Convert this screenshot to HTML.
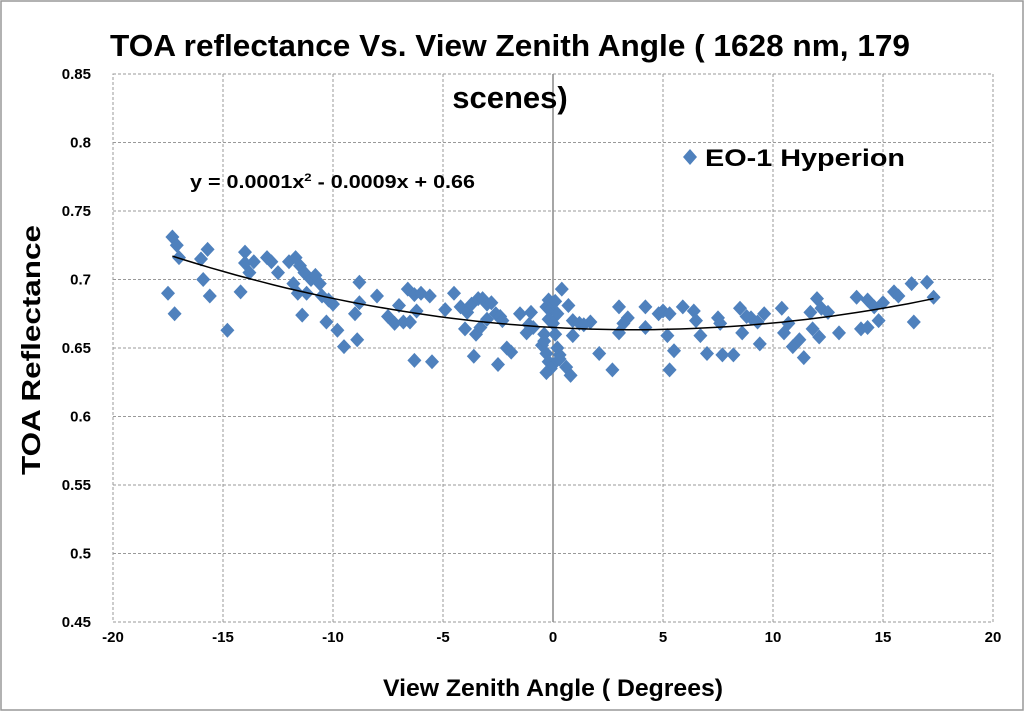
<!DOCTYPE html>
<html><head><meta charset="utf-8"><style>
body{margin:0;background:#fff;width:1024px;height:711px;overflow:hidden;font-family:"Liberation Sans",sans-serif}
svg{display:block}
</style></head><body>
<svg id="chart" width="1024" height="711">
<rect x="1" y="1" width="1022" height="709" fill="#fff" stroke="#999" stroke-width="1.5"/>
<g id="grid"></g>
<g id="ticks"></g>
<g id="pts"></g>
<path id="trend" fill="none" stroke="#000" stroke-width="1.5"/>
<text x="510" y="56" text-anchor="middle" font-size="31" font-weight="bold" textLength="800" lengthAdjust="spacingAndGlyphs">TOA reflectance Vs. View Zenith Angle ( 1628 nm, 179</text>
<text x="510" y="108" text-anchor="middle" font-size="31" font-weight="bold">scenes)</text>
<text x="553" y="696" text-anchor="middle" font-size="24" font-weight="bold" textLength="340" lengthAdjust="spacingAndGlyphs">View Zenith Angle ( Degrees)</text>
<text transform="translate(40,350) rotate(-90)" text-anchor="middle" font-size="26" font-weight="bold" textLength="250" lengthAdjust="spacingAndGlyphs">TOA Reflectance</text>
<g>
<path d="M690 149 L697 157 L690 165 L683 157 Z" fill="#4f81bd"/>
<text x="705" y="166" font-size="24" font-weight="bold" textLength="200" lengthAdjust="spacingAndGlyphs">EO-1 Hyperion</text>
</g>
<text x="190" y="188" font-size="18" font-weight="bold" textLength="285" lengthAdjust="spacingAndGlyphs">y = 0.0001x<tspan font-size="11" dy="-7">2</tspan><tspan dy="7"> - 0.0009x + 0.66</tspan></text>
</svg>
<script>
const xTicks=[-20,-15,-10,-5,0,5,10,15,20];
const yTicks=[0.45,0.5,0.55,0.6,0.65,0.7,0.75,0.8,0.85];
const yTickLabels=["0.45","0.5","0.55","0.6","0.65","0.7","0.75","0.8","0.85"];
const trendCoef=[0.0001221,-0.000896,0.665];
const trendRange=[-17.3,17.3];
const xs=[-17.3,-17.1,-17.0,-17.5,-17.2,-16.0,-15.7,-15.9,-15.6,-14.8,-14.0,-14.0,-13.8,-13.6,-14.2,-13.0,-12.8,-12.0,-11.7,-11.5,-11.3,-11.0,-10.8,-10.6,-11.8,-11.6,-11.4,-11.2,-10.5,-10.2,-10.0,-10.3,-9.8,-9.5,-8.9,-8.8,-8.8,-8.0,-7.5,-7.0,-6.8,-6.6,-6.3,-6.0,-6.2,-6.5,-6.3,-5.5,-5.6,-4.9,-4.5,-4.2,-3.9,-3.7,-3.4,-3.2,-3.0,-2.8,-3.5,-3.3,-3.6,-2.6,-2.4,-2.3,-2.1,-1.9,-2.5,-1.0,-1.1,-0.9,-0.5,-0.4,-0.3,-0.2,-0.1,0,0.1,0.2,-0.2,0,0.1,-0.3,-0.2,0,-0.1,0.2,-0.4,0.3,-0.3,0.4,0.7,0.9,1.2,1.7,0.9,2.1,2.7,3.0,3.4,3.0,4.2,4.2,4.8,5.0,5.3,5.2,5.5,5.3,5.9,6.4,6.5,6.7,7.0,7.5,7.6,7.7,8.2,8.5,8.6,9.0,9.3,9.4,9.6,10.4,10.5,10.7,10.9,11.2,11.4,11.7,12.0,12.2,11.8,12.1,13.0,13.8,14.3,14.6,14.0,14.3,14.8,15.5,15.7,16.3,17.0,17.3,16.4,0.6,0.8,-7.2,-4.0,-1.5,1.4,3.2,8.8,12.5,15.0,-12.5,-9.0,-3.0,-1.2,0.3];
const ys=[0.731,0.725,0.716,0.690,0.675,0.715,0.722,0.700,0.688,0.663,0.720,0.712,0.705,0.713,0.691,0.716,0.713,0.713,0.716,0.710,0.705,0.700,0.703,0.697,0.697,0.690,0.674,0.690,0.688,0.685,0.682,0.669,0.663,0.651,0.656,0.698,0.683,0.688,0.673,0.681,0.669,0.693,0.689,0.690,0.677,0.669,0.641,0.640,0.688,0.678,0.690,0.680,0.676,0.682,0.686,0.686,0.682,0.683,0.660,0.665,0.644,0.675,0.673,0.670,0.650,0.647,0.638,0.676,0.667,0.665,0.652,0.660,0.680,0.685,0.678,0.683,0.684,0.675,0.671,0.668,0.660,0.646,0.640,0.638,0.635,0.650,0.655,0.645,0.632,0.693,0.681,0.670,0.668,0.669,0.659,0.646,0.634,0.680,0.672,0.661,0.680,0.665,0.675,0.677,0.675,0.659,0.648,0.634,0.680,0.677,0.670,0.659,0.646,0.672,0.668,0.645,0.645,0.679,0.661,0.672,0.669,0.653,0.675,0.679,0.661,0.668,0.651,0.656,0.643,0.676,0.686,0.679,0.664,0.658,0.661,0.687,0.685,0.680,0.664,0.665,0.670,0.691,0.688,0.697,0.698,0.687,0.669,0.636,0.630,0.668,0.664,0.675,0.667,0.668,0.673,0.676,0.683,0.705,0.675,0.671,0.661,0.642];
const X0=113,X1=993,Y0=622,Y1=74;
const xS=v=>X0+(v-(-20))/40*(X1-X0);
const yS=v=>Y0-(v-0.45)/0.4*(Y0-Y1);
const NS="http://www.w3.org/2000/svg";
const g=document.getElementById('grid'),t=document.getElementById('ticks'),p=document.getElementById('pts');
function mk(tag,parent,attrs){const e=document.createElementNS(NS,tag);for(const k in attrs)e.setAttribute(k,attrs[k]);parent.appendChild(e);return e;}
const frame=mk('rect',g,{x:X0,y:Y1,width:X1-X0,height:Y0-Y1,fill:'none',stroke:'#999','stroke-width':1,'stroke-dasharray':'3,2'});


xTicks.forEach(v=>{
  const x=xS(v);
  if(v>-20&&v<20){const l=mk('line',g,{x1:x,x2:x,y1:Y1,y2:Y0,stroke:v===0?'#888':'#999','stroke-width':v===0?1.5:1,'stroke-dasharray':v===0?'none':'3,2'});
  
  }
  const tx=mk('text',t,{x:x,y:642,'text-anchor':'middle','font-size':15,'font-weight':'bold'});tx.textContent=v;
  
  
});
yTicks.forEach((v,i)=>{
  const y=yS(v);
  if(i>0&&i<yTicks.length-1){const l=mk('line',g,{x1:X0,x2:X1,y1:y,y2:y,stroke:'#999','stroke-width':1,'stroke-dasharray':'3,2'});
  
  }
  const tx=mk('text',t,{x:91,y:y+5,'text-anchor':'end','font-size':15,'font-weight':'bold'});tx.textContent=yTickLabels[i];
  
  
});
xs.forEach((v,i)=>{
  const cx=xS(v),cy=yS(ys[i]);
  const d=mk('path',p,{d:`M${cx} ${cy-7.5}L${cx+7} ${cy}L${cx} ${cy+7.5}L${cx-7} ${cy}Z`,fill:'#4f81bd'});
  
  
});
let dd='';
for(let k=0;k<=60;k++){const v=trendRange[0]+(trendRange[1]-trendRange[0])*k/60;const yv=trendCoef[0]*v*v+trendCoef[1]*v+trendCoef[2];dd+=(k?'L':'M')+xS(v).toFixed(1)+' '+yS(yv).toFixed(1);}
document.getElementById('trend').setAttribute('d',dd);
</script>
</body></html>
